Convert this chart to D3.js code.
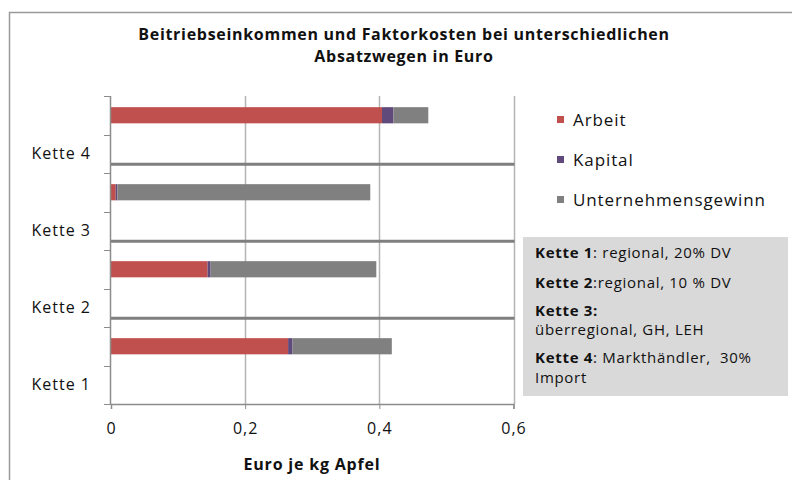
<!DOCTYPE html>
<html>
<head>
<meta charset="utf-8">
<script src="https://cdn.jsdelivr.net/npm/d3@7"></script>
<style>
  body { margin: 0; background: #fff; }
  text { font-family: "Open Sans", sans-serif; fill: #111; }
</style>
</head>
<body>
<div id="chart"></div>
<script>
let width = 792;
let height = 480;

// data, top to bottom as drawn
let ketten = ["Kette 4", "Kette 3", "Kette 2", "Kette 1"];
let arbeit = [0.404, 0.007, 0.144, 0.264];
let kapital = [0.017, 0.0025, 0.0045, 0.0066];
let gewinn = [0.052, 0.377, 0.247, 0.148];
let xTicks = [0, 0.2, 0.4, 0.6];
let seriesNames = ["Arbeit", "Kapital", "Unternehmensgewinn"];
let colors = ["#C0504D", "#604A7B", "#808080"];
let notes = [
	[["Kette 1", true], [": regional, 20% DV", false]],
	[["Kette 2", true], [":regional, 10 % DV", false]],
	[["Kette 3:", true]],
	[["überregional, GH, LEH", false]],
	[["Kette 4", true], [": Markthändler,  30%", false]],
	[["Import", false]]
];

let svg = d3.select("#chart").append("svg")
	.attr("width", width)
	.attr("height", height);

// chart frame (only top and left edge visible)
svg.append("path")
	.attr("d", "M9.5," + height + "V12.5H" + width)
	.attr("fill", "none")
	.attr("stroke", "#9a9a9a")
	.attr("stroke-width", 1.5);

// title
let title = svg.append("text")
	.attr("text-anchor", "middle")
	.style("font-weight", "bold")
	.style("font-size", "16px")
	.style("letter-spacing", "0.7px");
title.append("tspan").attr("x", 404).attr("y", 40).text("Beitriebseinkommen und Faktorkosten bei unterschiedlichen");
title.append("tspan").attr("x", 404).attr("y", 62).text("Absatzwegen in Euro");

// 8 slots: bar slot above each label slot
let slots = [];
ketten.forEach(function(k){ slots.push("bar " + k); slots.push(k); });

let x = d3.scaleLinear().domain([0, 0.6]).range([111, 513.5]);
let y = d3.scaleBand().domain(slots).range([96, 404]);

let g = svg.append("g");

// vertical gridlines
g.selectAll(".grid")
	.data(xTicks.filter(function(d){ return d > 0; }))
	.enter().append("line")
	.attr("x1", function(d){ return Math.round(x(d)) + 0.5; })
	.attr("x2", function(d){ return Math.round(x(d)) + 0.5; })
	.attr("y1", 96)
	.attr("y2", 404)
	.attr("stroke", "#b4b4b4")
	.attr("stroke-width", 1.5);

// stacked bars
let table = ketten.map(function(k, i){
	return { kette: k, Arbeit: arbeit[i], Kapital: kapital[i], Unternehmensgewinn: gewinn[i] };
});
let stack = d3.stack().keys(seriesNames)(table);
let barH = y.bandwidth() * 0.42;

g.selectAll(".series")
	.data(stack)
	.enter().append("g")
	.attr("fill", function(d, i){ return colors[i]; })
	.selectAll("rect")
	.data(function(d){ return d; })
	.enter().append("rect")
	.attr("x", function(d){ return x(d[0]); })
	.attr("width", function(d){ return x(d[1]) - x(d[0]); })
	.attr("y", function(d){ return y("bar " + d.data.kette) + (y.bandwidth() - barH) / 2; })
	.attr("height", barH);

// separator lines between the chains
g.selectAll(".sep")
	.data(ketten.slice(0, 3))
	.enter().append("line")
	.attr("x1", x(0))
	.attr("x2", x(0.6) + 1)
	.attr("y1", function(d){ return y(d) + y.bandwidth() * 0.77; })
	.attr("y2", function(d){ return y(d) + y.bandwidth() * 0.77; })
	.attr("stroke", "#7f7f7f")
	.attr("stroke-width", 3);

// y axis: line, ticks at slot boundaries, labels
let yTicks = slots.map(function(s){ return y(s); }).concat([y.range()[1]]);
g.append("line")
	.attr("x1", 110.5).attr("x2", 110.5)
	.attr("y1", 96).attr("y2", 404)
	.attr("stroke", "#8c8c8c").attr("stroke-width", 1.5);
g.selectAll(".ytick")
	.data(yTicks)
	.enter().append("line")
	.attr("x1", 104).attr("x2", 111)
	.attr("y1", function(d){ return Math.round(d) + 0.5; })
	.attr("y2", function(d){ return Math.round(d) + 0.5; })
	.attr("stroke", "#8c8c8c");
g.selectAll(".ylabel")
	.data(ketten)
	.enter().append("text")
	.attr("x", 91)
	.attr("y", function(d){ return y(d) + y.bandwidth() / 2; })
	.attr("dy", "0.35em")
	.attr("text-anchor", "end")
	.style("font-size", "16px")
	.style("letter-spacing", "1px")
	.text(function(d){ return d; });

// x axis
let xAxis = d3.axisBottom(x)
	.tickValues(xTicks)
	.tickSize(5)
	.tickPadding(14)
	.tickFormat(function(d){ return d3.format(".1f")(d).replace(".", ",").replace(/^0,0$/, "0"); });
let xg = g.append("g")
	.attr("transform", "translate(0,404)")
	.call(xAxis);
xg.select(".domain").attr("stroke", "#8c8c8c").attr("stroke-width", 1.5);
xg.selectAll(".tick line").attr("stroke", "#8c8c8c");
xg.selectAll(".tick text")
	.style("font-family", "'Open Sans', sans-serif")
	.style("font-size", "16px")
	.style("letter-spacing", "1px")
	.attr("fill", "#111");

svg.append("text")
	.attr("x", 312)
	.attr("y", 470)
	.attr("text-anchor", "middle")
	.style("font-weight", "bold")
	.style("font-size", "16px")
	.style("letter-spacing", "0.8px")
	.text("Euro je kg Apfel");

// legend
let legend = svg.append("g");
seriesNames.forEach(function(name, i){
	let ly = 120 + i * 40;
	legend.append("rect")
		.attr("x", 557).attr("y", ly - 4)
		.attr("width", 7).attr("height", 7)
		.attr("fill", colors[i]);
	legend.append("text")
		.attr("x", 573).attr("y", ly)
		.attr("dy", "0.35em")
		.style("font-size", "17px")
		.style("letter-spacing", "0.9px")
		.text(name);
});

// note box
svg.append("rect")
	.attr("x", 523).attr("y", 237)
	.attr("width", 265).attr("height", 159)
	.attr("fill", "#d9d9d9");
let noteY = [253, 283, 311, 330, 358, 378];
notes.forEach(function(parts, i){
	let t = svg.append("text")
		.attr("x", 535).attr("y", noteY[i])
		.attr("dy", "0.35em")
		.style("font-size", "15px")
		.style("letter-spacing", "0.7px")
		.style("white-space", "pre");
	parts.forEach(function(p){
		t.append("tspan")
			.style("font-weight", p[1] ? "bold" : "normal")
			.text(p[0]);
	});
});
</script>
</body>
</html>
